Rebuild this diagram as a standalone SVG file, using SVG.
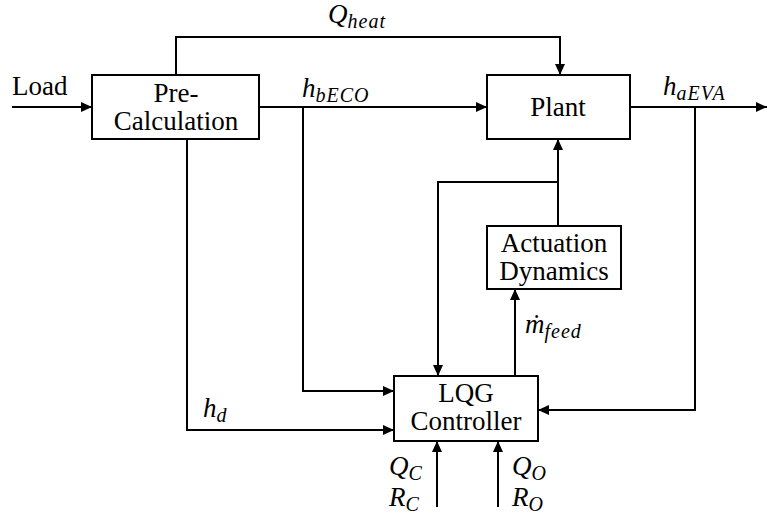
<svg xmlns="http://www.w3.org/2000/svg" width="767" height="518" viewBox="0 0 767 518">
<style>
.box{fill:#fff;stroke:#000;stroke-width:2}
.ln{fill:none;stroke:#000;stroke-width:2}
text{font-family:'Liberation Serif','Times New Roman','DejaVu Serif','Noto Serif',Times,serif;font-size:27px;fill:#000}
.m{font-style:italic}
.s{font-size:20px;letter-spacing:1px}
</style>
<defs>
<marker id="a" markerUnits="userSpaceOnUse" markerWidth="12" markerHeight="12" refX="11" refY="6" orient="auto">
<path d="M0,1 L11,6 L0,11 z" fill="#000"/>
</marker>
</defs>
<g id="connectors">
<path class="ln" d="M12,107 H92" marker-end="url(#a)"/>
<path class="ln" d="M176,75 V37 H560 V75" marker-end="url(#a)"/>
<path class="ln" d="M259,107 H487" marker-end="url(#a)"/>
<path class="ln" d="M303,107 V391 H394" marker-end="url(#a)"/>
<path class="ln" d="M187,139 V430 H394" marker-end="url(#a)"/>
<path class="ln" d="M630,107 H767" marker-end="url(#a)"/>
<path class="ln" d="M695,107 V410 H538" marker-end="url(#a)"/>
<path class="ln" d="M558,226 V139" marker-end="url(#a)"/>
<path class="ln" d="M558,182 H438 V376" marker-end="url(#a)"/>
<path class="ln" d="M515,376 V289" marker-end="url(#a)"/>
<path class="ln" d="M437,507 V441" marker-end="url(#a)"/>
<path class="ln" d="M498,507 V441" marker-end="url(#a)"/>
</g>
<g id="labels">
<text x="12" y="95">Load</text>
<text class="m" x="328" y="23">Q<tspan class="s" dy="5">heat</tspan></text>
<text class="m" x="302" y="97">h<tspan class="s" dy="5">bECO</tspan></text>
<text class="m" x="663" y="95">h<tspan class="s" dy="5">aEVA</tspan></text>
<text class="m" x="525" y="333">ṁ<tspan class="s" dy="5">feed</tspan></text>
<text class="m" x="203" y="417">h<tspan class="s" dy="5">d</tspan></text>
<text class="m" x="389" y="475">Q<tspan class="s" dy="5">C</tspan></text>
<text class="m" x="389" y="506">R<tspan class="s" dy="5">C</tspan></text>
<text class="m" x="512" y="475">Q<tspan class="s" dy="5">O</tspan></text>
<text class="m" x="512" y="506">R<tspan class="s" dy="5">O</tspan></text>
</g>
<g id="precalc">
<rect class="box" x="92" y="75" width="167" height="64"/>
<text x="176" y="102" text-anchor="middle">Pre-</text>
<text x="176" y="130" text-anchor="middle">Calculation</text>
</g>
<g id="plant">
<rect class="box" x="487" y="75" width="143" height="64"/>
<text x="558" y="116" text-anchor="middle">Plant</text>
</g>
<g id="actuation">
<rect class="box" x="487" y="226" width="134" height="63"/>
<text x="554" y="252" text-anchor="middle">Actuation</text>
<text x="554" y="280" text-anchor="middle">Dynamics</text>
</g>
<g id="lqg">
<rect class="box" x="394" y="376" width="144" height="65"/>
<text x="466" y="402" text-anchor="middle">LQG</text>
<text x="466" y="430" text-anchor="middle">Controller</text>
</g>
</svg>
